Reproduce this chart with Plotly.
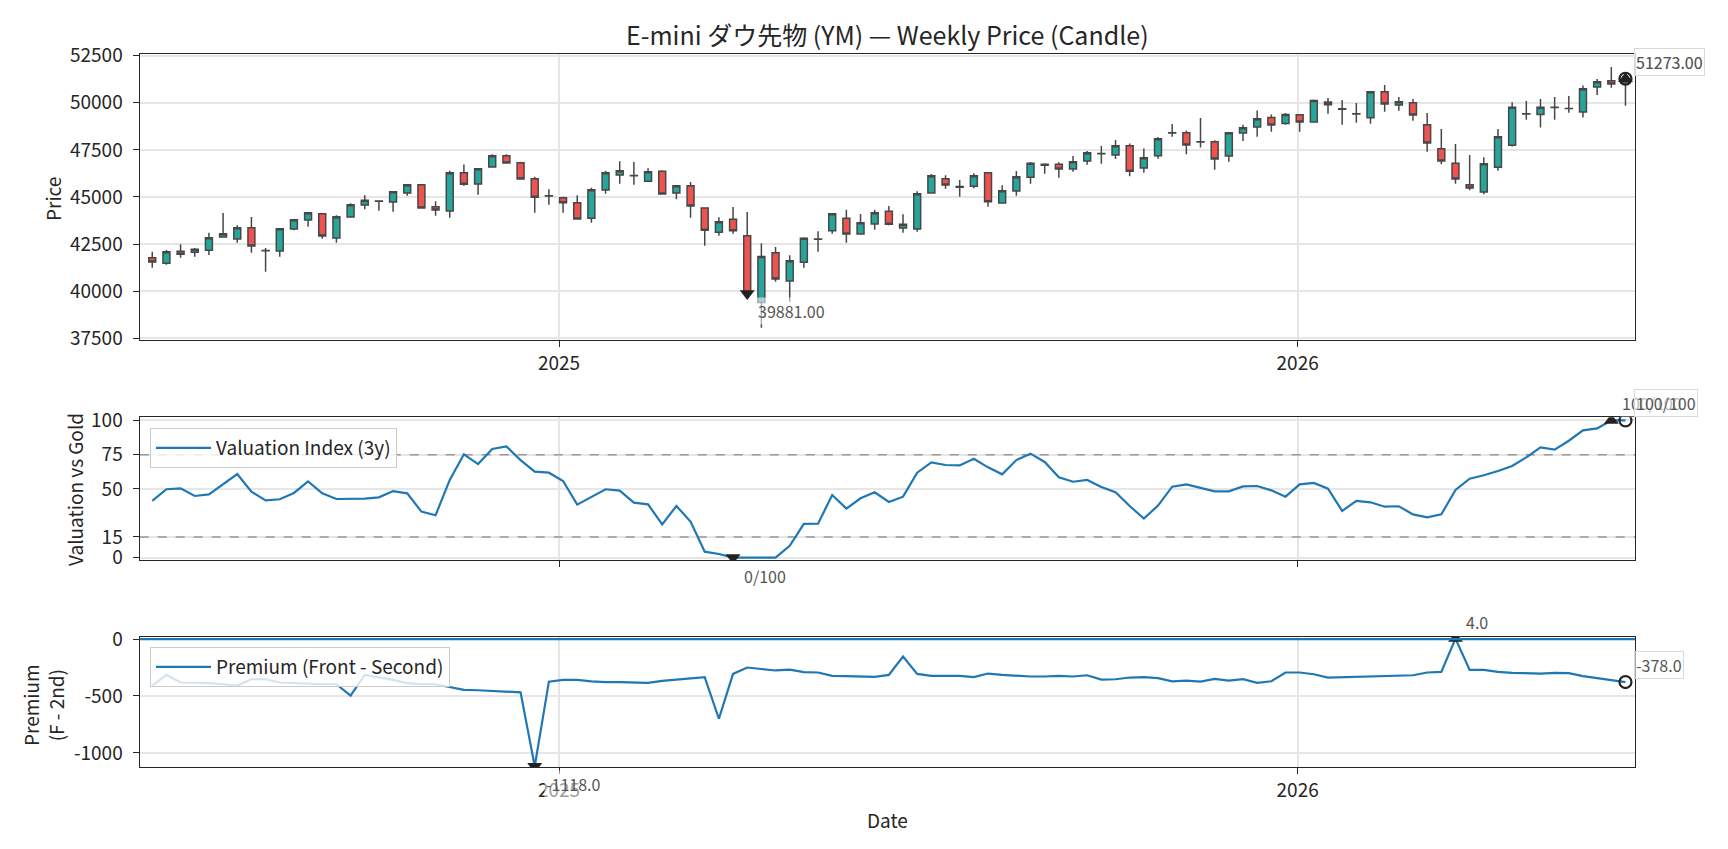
import pandas as pd
import plotly.graph_objects as go

# ---------------- data ----------------
start_date = "2024-06-14"
n_weeks = 105
dates = pd.date_range(start_date, periods=n_weeks, freq="7D")

opens = [41779, 41479, 42115, 42062, 42168, 42875, 42770, 43370, 42150, 42133,
         43300, 43777, 44113, 42823, 43936, 44573, 44770, 44732, 45209, 45651,
         44484, 44254, 46288, 45687, 46588, 47189, 46818, 45970, 45050, 44962,
         44697, 43866, 45368, 46164, 46120, 45828, 46359, 45209, 45598, 44414,
         43123, 43812, 42946, 39400, 42045, 40542, 41532, 42750, 43211, 43866,
         43035, 43565, 44237, 43353, 43300, 45209, 45970, 45520, 45563, 46288,
         44679, 45315, 46040, 46730, 46730, 46482, 46906, 47290, 47225, 47720,
         46535, 47189, 48400, 48409, 47920, 47932, 47171, 48391, 48710, 49222,
         48904, 49364, 48975, 50036, 49680, 49400, 49205, 50584, 49877, 50000,
         48833, 47560, 46783, 45651, 45262, 46570, 47743, 49420, 49382, 49750,
         49690, 49505, 50831, 51167, 51050]
highs = [42098, 42186, 42487, 42292, 43105, 44148, 43494, 43936, 42292, 43335,
         43830, 44201, 44131, 44025, 44661, 45086, 44820, 45297, 45669, 45669,
         44767, 46394, 46729, 46518, 47260, 47260, 46871, 46075, 45403, 45015,
         45086, 45492, 46394, 46889, 46853, 46518, 46412, 45634, 45793, 44449,
         43918, 44467, 44201, 42545, 42345, 41903, 42858, 43176, 44131, 44325,
         44095, 44325, 44520, 44078, 45297, 46217, 46146, 45899, 46253, 46306,
         45616, 46376, 46853, 46783, 46836, 47171, 47437, 47702, 48020, 47843,
         47578, 48179, 48869, 48533, 49187, 48003, 48427, 48833, 49594, 49382,
         49453, 49382, 50177, 50248, 50142, 49983, 50602, 50938, 50301, 50195,
         49453, 48603, 47808, 47225, 47101, 48603, 50024, 50089, 50195, 50301,
         50354, 50920, 51255, 51892, 51400]
lows = [41249, 41408, 41779, 41832, 41920, 42840, 42575, 42045, 41037, 41832,
        43229, 43423, 42787, 42575, 43918, 44343, 44272, 44219, 45068, 44396,
        44007, 43901, 45598, 45121, 46570, 46783, 45934, 44166, 44590, 44166,
        43812, 43636, 45174, 45704, 45651, 45810, 45138, 44873, 43901, 42416,
        42946, 43052, 39700, 38066, 40506, 39445, 41249, 42098, 43052, 42575,
        43017, 43264, 43494, 43105, 43159, 45191, 45439, 45015, 45456, 44484,
        44661, 45068, 45704, 46235, 46022, 46341, 46712, 46765, 47012, 46094,
        46288, 47030, 48197, 47260, 47631, 46447, 46871, 47967, 48197, 48462,
        48833, 48462, 48957, 49417, 48833, 48940, 48886, 49523, 49576, 49046,
        47402, 46730, 45704, 45350, 45138, 46394, 47672, 49099, 48692, 49099,
        49470, 49222, 50407, 50796, 49840]
closes = [41549, 42098, 41956, 42221, 42840, 43052, 43370, 42398, 42160, 43317,
          43795, 44166, 42928, 43954, 44590, 44820, 44785, 45280, 45651, 44414,
          44307, 46288, 45669, 46500, 47189, 46800, 45952, 44980, 45070, 44697,
          43830, 45386, 46288, 46394, 46140, 46341, 45156, 45598, 44520, 43229,
          43689, 43211, 39881, 41838, 40648, 41620, 42805, 42770, 44113, 43035,
          43636, 44166, 43547, 43547, 45174, 46129, 45634, 45560, 46129, 44750,
          45333, 46076, 46783, 46677, 46482, 46871, 47348, 47300, 47720, 46359,
          47083, 48091, 48410, 47755, 47930, 47012, 48409, 48674, 49152, 48816,
          49382, 48975, 50124, 49894, 49660, 49410, 50584, 49930, 50053, 49346,
          47861, 46906, 45952, 45474, 46765, 48197, 49758, 49400, 49758, 49760,
          49700, 50743, 51114, 50990, 51273]

valuation = [41.3, 49.8, 50.5, 44.9, 46.1, 53.4, 60.9, 48.1, 41.7, 42.5,
             47.1, 55.6, 46.8, 42.7, 43.0, 43.0, 43.9, 48.5, 46.8, 33.5,
             30.8, 56.6, 75.3, 68.2, 79.2, 81.1, 71.1, 62.6, 61.9, 55.8,
             38.6, 43.9, 49.8, 48.8, 40.0, 38.8, 24.2, 37.6, 26.2, 4.3,
             2.6, 0.0, 0.0, 0.0, 0.0, 8.5, 24.5, 24.7, 45.6, 35.7,
             43.2, 47.6, 40.5, 44.4, 61.9, 69.4, 67.5, 67.2, 72.1, 65.8,
             60.7, 71.1, 75.8, 69.7, 58.5, 55.3, 56.6, 51.5, 47.6, 37.6,
             28.4, 37.9, 51.7, 53.4, 51.0, 48.3, 48.3, 51.9, 52.2, 49.0,
             44.4, 53.4, 54.4, 50.2, 34.0, 41.3, 40.3, 37.1, 37.4, 31.5,
             29.3, 31.5, 49.3, 57.5, 60.0, 63.1, 66.8, 73.1, 80.4, 78.7,
             85.2, 92.8, 94.2, 100.0, 100.0]

premium = [-409, -315, -382, -382, -388, -397, -409, -353, -353, -382,
           -388, -397, -397, -397, -497, -315, -335, -359, -388, -397,
           -397, -424, -447, -450, -456, -462, -468, -1118, -374, -359,
           -359, -371, -379, -379, -382, -385, -368, -359, -350, -335,
           -700, -306, -250, -262, -276, -268, -291, -294, -324, -326,
           -329, -332, -315, -153, -306, -324, -324, -324, -335, -303,
           -315, -324, -329, -329, -324, -329, -318, -356, -353, -338,
           -335, -344, -371, -365, -374, -350, -365, -353, -385, -371,
           -294, -294, -309, -338, -335, -332, -331, -329, -324, -318,
           -294, -288, 4, -271, -271, -288, -297, -300, -303, -297,
           -300, -326, -344, -359, -378]

price_ticks = [37500, 40000, 42500, 45000, 47500, 50000, 52500]
valuation_ticks = [0, 15, 50, 75, 100]
valuation_bands = [15, 75]
premium_ticks = [-1000, -500, 0]
year_ticks = ["2025-01-01", "2026-01-01"]
year_labels = ["2025", "2026"]
x_range = ["2024-06-07 19:00", "2026-06-16 17:00"]

title_text = "E-mini ダウ先物 (YM) — Weekly Price (Candle)"

# ---------------- styling ----------------
FONT = "Noto Sans CJK JP, Noto Sans, sans-serif"
DARK = "#262626"
GRID = "#e6e6e6"
BLUE = "#1f77b4"
TXT = "#555555"
TICK_SIZE = 19

fig = go.Figure()

fig.add_trace(go.Candlestick(
    x=dates, open=opens, high=highs, low=lows, close=closes,
    increasing=dict(fillcolor="#26a69a", line=dict(color="#474747", width=1.5)),
    decreasing=dict(fillcolor="#ef5350", line=dict(color="#474747", width=1.5)),
    whiskerwidth=0, showlegend=False, xaxis="x", yaxis="y", name="YM"))

# valuation reference bands (dashed), drawn under the series line
for b in valuation_bands:
    fig.add_trace(go.Scatter(x=x_range, y=[b, b], mode="lines", showlegend=False,
                             line=dict(color="#999999", width=1.5, dash="dash"),
                             xaxis="x2", yaxis="y2", hoverinfo="skip"))

fig.add_trace(go.Scatter(x=dates, y=valuation, mode="lines",
                         line=dict(color=BLUE, width=2.2),
                         name="Valuation Index (3y)", legend="legend2",
                         xaxis="x2", yaxis="y2"))

fig.add_trace(go.Scatter(x=dates, y=premium, mode="lines",
                         line=dict(color=BLUE, width=2.2),
                         name="Premium (Front - Second)", legend="legend3",
                         xaxis="x3", yaxis="y3"))


def idx_min(v):
    return min(range(len(v)), key=lambda i: v[i])


def idx_max(v):
    return max(range(len(v)), key=lambda i: v[i])


annotations = []


def mark(series, i, symbol, xa, ya, label, up, boxed=False):
    fig.add_trace(go.Scatter(
        x=[dates[i]], y=[series[i]], mode="markers", showlegend=False,
        marker=dict(symbol=symbol, size=12 if "circle" in symbol else 13,
                    color="#222222",
                    line=dict(color="#222222", width=2.2 if "circle" in symbol else 0)),
        xaxis=xa, yaxis=ya, hoverinfo="skip"))
    ann = dict(x=dates[i], y=series[i], xref=xa, yref=ya, text=label,
               showarrow=False, xanchor="left", yanchor="middle",
               xshift=9, yshift=17 if up else -18,
               font=dict(family=FONT, size=16, color=TXT))
    if boxed:
        ann.update(bgcolor="rgba(255,255,255,0.6)", bordercolor="#d9d9d9",
                   borderwidth=1, borderpad=1)
    else:
        ann.update(bgcolor="rgba(255,255,255,0.55)")
    annotations.append(ann)


last = n_weeks - 1
# price panel
i = idx_min(closes)
mark(closes, i, "triangle-down", "x", "y", f"{closes[i]:.2f}", False)
i = idx_max(closes)
mark(closes, i, "triangle-up", "x", "y", f"{closes[i]:.2f}", True)
mark(closes, last, "circle-open", "x", "y", f"{closes[last]:.2f}", True, boxed=True)
# valuation panel
i = idx_min(valuation)
mark(valuation, i, "triangle-down", "x2", "y2", f"{valuation[i]:.0f}/100", False)
i = idx_max(valuation)
mark(valuation, i, "triangle-up", "x2", "y2", f"{valuation[i]:.0f}/100", True)
mark(valuation, last, "circle-open", "x2", "y2", f"{valuation[last]:.0f}/100", True, boxed=True)
# premium panel
i = idx_min(premium)
mark(premium, i, "triangle-down", "x3", "y3", f"{premium[i]:.1f}", False)
i = idx_max(premium)
mark(premium, i, "triangle-up", "x3", "y3", f"{premium[i]:.1f}", True)
mark(premium, last, "circle-open", "x3", "y3", f"{premium[last]:.1f}", True, boxed=True)

# axis titles
ax_font = dict(family=FONT, size=19, color=DARK)
common_t = dict(xref="paper", yref="paper", showarrow=False,
                xanchor="center", yanchor="middle")
annotations += [
    dict(common_t, text="Price", x=52 / 1728, y=1 - 199 / 849, textangle=-90,
         font=ax_font),
    dict(common_t, text="Valuation vs Gold", x=74 / 1728, y=1 - 490 / 849,
         textangle=-90, font=ax_font),
    dict(common_t, text="Premium<br>(F - 2nd)", x=43 / 1728, y=1 - 705 / 849,
         textangle=-90, font=ax_font),
    dict(common_t, text="Date", x=887 / 1728, y=1 - 819 / 849, font=ax_font),
    dict(common_t, text=title_text, x=887 / 1728, y=1 - 34 / 849,
         font=dict(family=FONT, size=25, color=DARK)),
]

shapes = [dict(type="line", xref="x3 domain", x0=0, x1=1, yref="y3",
               y0=0, y1=0, layer="above", line=dict(color=BLUE, width=2.2))]

xdom = [139.7 / 1728, 1635 / 1728]
xcommon = dict(domain=xdom, type="date", range=x_range, tickvals=year_ticks,
               ticktext=year_labels, showgrid=True, gridcolor=GRID, gridwidth=1.5,
               showline=True, linecolor=DARK, linewidth=1.4, mirror=True,
               ticks="outside", ticklen=6, tickwidth=1.3, tickcolor=DARK,
               zeroline=False, tickfont=dict(family=FONT, size=TICK_SIZE, color=DARK),
               automargin=False)
ycommon = dict(showgrid=True, gridcolor=GRID, gridwidth=1.5, showline=True,
               linecolor=DARK, linewidth=1.4, mirror=True, ticks="outside",
               ticklen=6, tickwidth=1.3, tickcolor=DARK, zeroline=False,
               tickfont=dict(family=FONT, size=TICK_SIZE, color=DARK),
               automargin=False, ticklabelstandoff=6)

legend_common = dict(xanchor="left", yanchor="top", bgcolor="rgba(255,255,255,0.8)",
                     bordercolor="#cccccc", borderwidth=1, itemwidth=55,
                     font=dict(family=FONT, size=19, color=DARK))

fig.update_layout(
    width=1728, height=849, autosize=False,
    margin=dict(l=0, r=0, t=0, b=0),
    paper_bgcolor="white", plot_bgcolor="white",
    font=dict(family=FONT, color=DARK),
    xaxis=dict(xcommon, anchor="y", rangeslider=dict(visible=False)),
    xaxis2=dict(xcommon, anchor="y2", showticklabels=False),
    xaxis3=dict(xcommon, anchor="y3"),
    yaxis=dict(ycommon, domain=[1 - 340 / 849, 1 - 54.3 / 849], anchor="x",
               range=[37410, 52570], tickvals=price_ticks,
               ticktext=[str(v) for v in price_ticks]),
    yaxis2=dict(ycommon, domain=[1 - 560 / 849, 1 - 417.3 / 849], anchor="x2",
                range=[-1.8, 102.3], tickvals=valuation_ticks,
                ticktext=[str(v) for v in valuation_ticks]),
    yaxis3=dict(ycommon, domain=[1 - 767 / 849, 1 - 637 / 849], anchor="x3",
                range=[-1124, 18], tickvals=premium_ticks,
                ticktext=[str(v) for v in premium_ticks]),
    legend2=dict(legend_common, x=150 / 1728, y=1 - 428 / 849),
    legend3=dict(legend_common, x=150 / 1728, y=1 - 647 / 849),
    annotations=annotations,
    shapes=shapes,
    showlegend=True,
    hovermode=False,
)

fig.write_html("out.html")
